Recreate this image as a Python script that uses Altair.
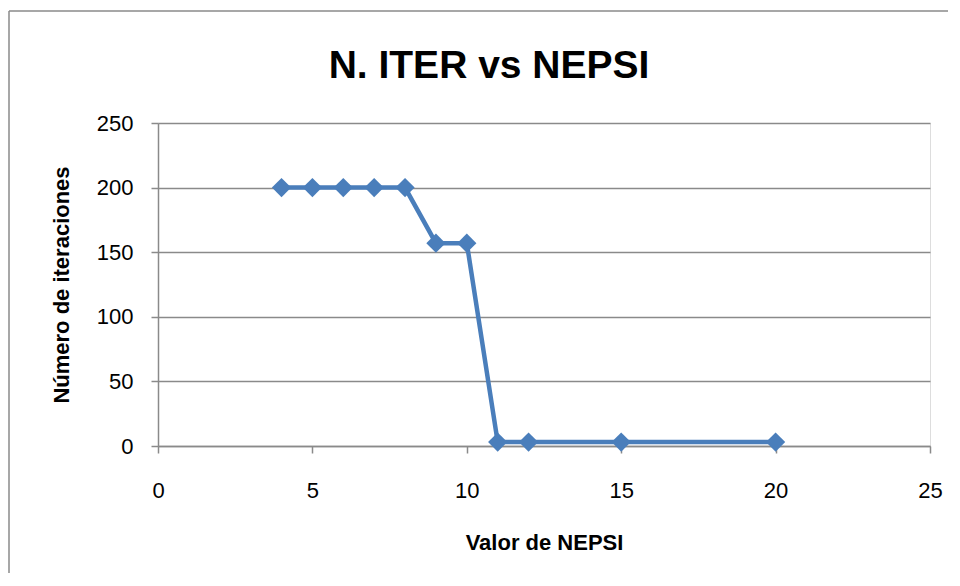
import altair as alt
import pandas as pd

# Data
nepsi = [4, 5, 6, 7, 8, 9, 10, 11, 12, 15, 20]
iteraciones = [200, 200, 200, 200, 200, 157, 157, 3, 3, 3, 3]

df = pd.DataFrame({"nepsi": nepsi, "iter": iteraciones})

FONT = "Liberation Sans"
BLUE = "#4a7ebb"
GRAY = "#8a8a8a"

x_enc = alt.X(
    "nepsi:Q",
    scale=alt.Scale(domain=[0, 25], nice=False, zero=True),
    axis=alt.Axis(
        values=[0, 5, 10, 15, 20, 25],
        title="Valor de NEPSI",
        grid=False,
        tickSize=7,
        tickColor=GRAY,
        tickWidth=1.5,
        domainColor=GRAY,
        domainWidth=1.5,
        labelFont=FONT,
        labelFontSize=22,
        labelColor="#000000",
        labelBaseline="alphabetic",
        labelPadding=44,
        labelFlush=False,
        titleFont=FONT,
        titleFontSize=22,
        titleFontWeight="bold",
        titleColor="#000000",
        titleBaseline="alphabetic",
        titleY=103,
    ),
)
y_enc = alt.Y(
    "iter:Q",
    scale=alt.Scale(domain=[0, 250], nice=False),
    axis=alt.Axis(
        values=[0, 50, 100, 150, 200, 250],
        title="Número de iteraciones",
        grid=True,
        gridColor=GRAY,
        gridWidth=1.5,
        tickSize=7,
        tickColor=GRAY,
        tickWidth=1.5,
        domainColor=GRAY,
        domainWidth=1.5,
        labelFont=FONT,
        labelFontSize=22,
        labelColor="#000000",
        labelPadding=18,
        labelFlush=False,
        titleFont=FONT,
        titleFontSize=22,
        titleFontWeight="bold",
        titleColor="#000000",
        titleBaseline="alphabetic",
        titleAngle=-90,
        titleX=-90,
    ),
)

line = alt.Chart(df).mark_line(color=BLUE, strokeWidth=4.5, strokeJoin="miter").encode(
    x=x_enc, y=y_enc
)
points = alt.Chart(df).mark_point(
    shape="diamond", filled=True, color=BLUE, size=370, opacity=1
).encode(x="nepsi:Q", y="iter:Q")

frame_df = pd.DataFrame({"k": [0]})
frame_left = alt.Chart(frame_df).mark_rule(color=GRAY, strokeWidth=1.5).encode(
    x=alt.value(-149), y=alt.value(-112), y2=alt.value(450)
)
frame_top = alt.Chart(frame_df).mark_rule(color=GRAY, strokeWidth=1.5).encode(
    x=alt.value(-149), x2=alt.value(790), y=alt.value(-112)
)

chart = (
    alt.layer(frame_left, frame_top, line, points)
    .properties(
        width=772,
        height=323,
        title=alt.TitleParams(
            text="N. ITER vs NEPSI",
            font=FONT,
            fontSize=39,
            fontWeight="bold",
            color="#000000",
            anchor="middle",
            frame="group",
            baseline="alphabetic",
            dx=-55,
            offset=-107,
        ),
        autosize=alt.AutoSizeParams(type="none"),
        padding={"left": 150, "top": 115, "right": 18, "bottom": 127},
    )
    .configure_view(strokeWidth=0)
    .configure(background="#ffffff")
)

chart.save("out.html", embed_options={"renderer": "svg", "actions": False})
